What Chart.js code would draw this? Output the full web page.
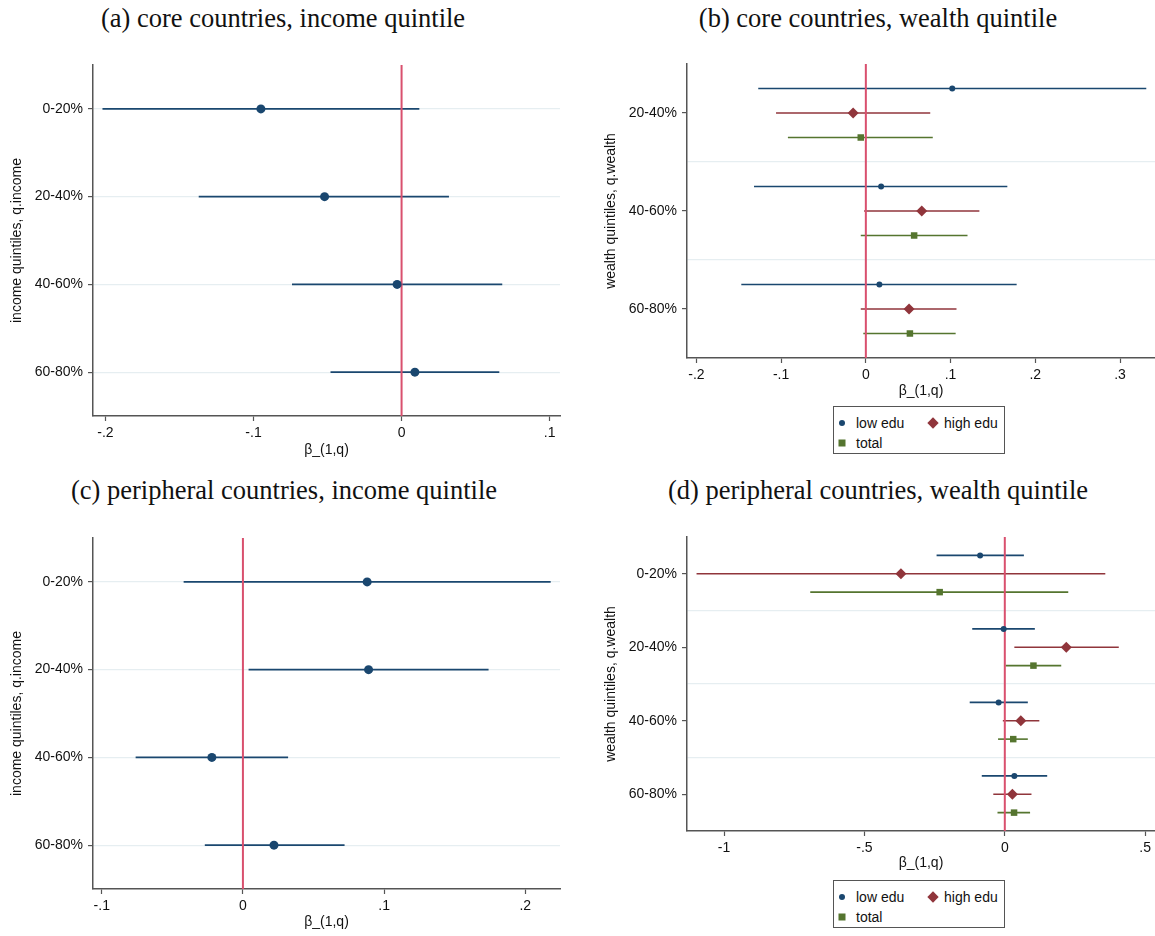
<!DOCTYPE html>
<html>
<head>
<meta charset="utf-8">
<script src="https://cdn.jsdelivr.net/npm/chart.js@4.4.1/dist/chart.umd.min.js"></script>
<style>
  body { margin: 0; background: #fff; width: 1155px; height: 936px; position: relative; overflow: hidden;
         font-family: "Liberation Sans", Arial, sans-serif; color: #111; }
  .ttl { position: absolute; font-family: "Liberation Serif", "Times New Roman", serif; font-size: 26.5px;
         white-space: nowrap; transform: translate(-50%, -50%); color: #111; }
  .pan { position: absolute; }
  .leg { position: absolute; border: 1px solid #555; box-sizing: border-box; font-size: 14px; }
  .leg span { position: absolute; }
  .leg .lt { transform: translateY(-50%); white-space: nowrap; }
  .dot { width: 6px; height: 6px; border-radius: 50%; background: #1a476f; transform: translate(-50%, -50%); }
  .dia { width: 8px; height: 8px; background: #90353b; transform: translate(-50%, -50%) rotate(45deg); }
  .sq { width: 7px; height: 7px; background: #55752f; transform: translate(-50%, -50%); }
</style>
</head>
<body>
<div class="ttl" style="left:283px;top:18px">(a) core countries, income quintile</div>
<div class="ttl" style="left:878px;top:18px">(b) core countries, wealth quintile</div>
<div class="ttl" style="left:284px;top:490px">(c) peripheral countries, income quintile</div>
<div class="ttl" style="left:878px;top:490px">(d) peripheral countries, wealth quintile</div>

<canvas id="pa" class="pan" width="578" height="430" style="left:0;top:40px"></canvas>
<canvas id="pb" class="pan" width="577" height="360" style="left:578px;top:40px"></canvas>
<canvas id="pc" class="pan" width="578" height="424" style="left:0;top:512px"></canvas>
<canvas id="pd" class="pan" width="577" height="360" style="left:578px;top:512px"></canvas>

<div class="leg" style="left:833px;top:406px;width:172px;height:48px">
  <span class="dot" style="left:8px;top:16px"></span><span class="lt" style="left:22px;top:16px">low edu</span>
  <span class="dia" style="left:99px;top:16px"></span><span class="lt" style="left:110px;top:16px">high edu</span>
  <span class="sq" style="left:8px;top:36px"></span><span class="lt" style="left:22px;top:36px">total</span>
</div>
<div class="leg" style="left:833px;top:880px;width:172px;height:48px">
  <span class="dot" style="left:8px;top:16px"></span><span class="lt" style="left:22px;top:16px">low edu</span>
  <span class="dia" style="left:99px;top:16px"></span><span class="lt" style="left:110px;top:16px">high edu</span>
  <span class="sq" style="left:8px;top:36px"></span><span class="lt" style="left:22px;top:36px">total</span>
</div>

<script>
// quintile labels
const incomeQuintiles = ['0-20%', '20-40%', '40-60%', '60-80%'];
const coreWealthQuintiles = ['20-40%', '40-60%', '60-80%'];
const periWealthQuintiles = ['0-20%', '20-40%', '40-60%', '60-80%'];

// (a) core countries, income: estimate and 95% CI
const coreIncB  = [-0.095, -0.052, -0.003, 0.009];
const coreIncLo = [-0.202, -0.137, -0.074, -0.048];
const coreIncHi = [0.012, 0.032, 0.068, 0.066];

// (b) core countries, wealth
const coreLowB   = [0.102, 0.018, 0.016];
const coreLowLo  = [-0.127, -0.132, -0.147];
const coreLowHi  = [0.331, 0.167, 0.178];
const coreHighB  = [-0.015, 0.066, 0.051];
const coreHighLo = [-0.106, -0.002, -0.006];
const coreHighHi = [0.076, 0.134, 0.107];
const coreTotB   = [-0.006, 0.057, 0.052];
const coreTotLo  = [-0.092, -0.006, -0.003];
const coreTotHi  = [0.079, 0.120, 0.106];

// (c) peripheral countries, income
const periIncB  = [0.088, 0.089, -0.022, 0.022];
const periIncLo = [-0.042, 0.004, -0.076, -0.027];
const periIncHi = [0.218, 0.174, 0.032, 0.072];

// (d) peripheral countries, wealth
const periLowB   = [-0.088, -0.004, -0.022, 0.034];
const periLowLo  = [-0.243, -0.116, -0.125, -0.082];
const periLowHi  = [0.068, 0.107, 0.082, 0.151];
const periHighB  = [-0.370, 0.219, 0.057, 0.027];
const periHighLo = [-1.098, 0.034, -0.007, -0.041];
const periHighHi = [0.358, 0.406, 0.123, 0.095];
const periTotB   = [-0.232, 0.102, 0.030, 0.033];
const periTotLo  = [-0.693, 0.003, -0.024, -0.026];
const periTotHi  = [0.226, 0.201, 0.082, 0.090];

// x axis tick values
const ticksA = [-0.2, -0.1, 0, 0.1];
const ticksB = [-0.2, -0.1, 0, 0.1, 0.2, 0.3];
const ticksC = [-0.1, 0, 0.1, 0.2];
const ticksD = [-1, -0.5, 0, 0.5];

const blue = '#1a476f', red = '#90353b', green = '#55752f';
const zeroCol = '#d9506e';
const axisCol = '#555555';
const gridCol = '#e6eef1';
const clear = 'rgba(0,0,0,0)';

Chart.defaults.font.family = '"Liberation Sans", Arial, sans-serif';
Chart.defaults.color = '#111';

// stata style numbers: .1, -.2, 0
function stata(v) {
  if (v === 0) return '0';
  return (v < 0 ? '-' : '') + String(Math.abs(v)).replace(/^0\./, '.');
}

// horizontal CI segments, one dataset each
function ciSets(lo, hi, shift, color) {
  return lo.map((l, i) => ({
    data: [{ x: l, y: i + 1 + shift }, { x: hi[i], y: i + 1 + shift }],
    showLine: true, borderColor: color, borderWidth: 1.6, pointRadius: 0, order: 2
  }));
}

function markerSet(b, shift, color, style, r) {
  return {
    data: b.map((v, i) => ({ x: v, y: i + 1 + shift })),
    pointStyle: style, pointRadius: r,
    pointBackgroundColor: color, pointBorderColor: color, pointBorderWidth: 0, order: 0
  };
}

function zeroSet(n) {
  return {
    data: [{ x: 0, y: 0.5 }, { x: 0, y: n + 0.5 }],
    showLine: true, borderColor: zeroCol, borderWidth: 2, pointRadius: 0, order: 1
  };
}

function drawPanel(id, o) {
  const n = o.cats.length;
  new Chart(document.getElementById(id), {
    type: 'scatter',
    data: { datasets: o.datasets },
    options: {
      responsive: false,
      animation: false,
      events: [],
      layout: { autoPadding: false, padding: { top: o.top, right: o.right, left: 0, bottom: 0 } },
      plugins: { legend: { display: false }, tooltip: { enabled: false } },
      scales: {
        x: {
          type: 'linear', position: 'bottom', min: o.xmin, max: o.xmax,
          afterBuildTicks: s => { s.ticks = o.xticks.map(v => ({ value: v })); },
          afterFit: s => { s.height = o.xh; s.paddingLeft = 0; s.paddingRight = 0; },
          ticks: { callback: v => stata(v), font: { size: 14 }, color: '#111', padding: 4, maxRotation: 0, autoSkip: false },
          grid: { drawOnChartArea: false, tickLength: 5, tickColor: axisCol, tickWidth: 1.2 },
          border: { color: axisCol, width: 1.5 },
          title: { display: true, text: 'β_(1,q)', font: { size: 14 }, color: '#111', padding: { top: 0, bottom: o.xtPad } }
        },
        y: {
          type: 'linear', reverse: true, min: 0.5, max: n + 0.5,
          afterBuildTicks: s => { s.ticks = o.yticks.map(v => ({ value: v })); },
          afterFit: s => { s.width = o.yw; s.paddingTop = 0; s.paddingBottom = 0; },
          ticks: { callback: v => Number.isInteger(v) ? o.cats[v - 1] : '', font: { size: 14 }, color: '#111', padding: 5, autoSkip: false },
          grid: {
            color: c => (c.tick && o.gridAt(c.tick.value)) ? gridCol : clear,
            tickColor: c => (c.tick && Number.isInteger(c.tick.value)) ? axisCol : clear,
            tickLength: 5, lineWidth: 1.2, tickWidth: 1.2
          },
          border: { color: axisCol, width: 1.5 },
          title: { display: true, text: o.ytitle, font: { size: 14 }, color: '#111', padding: { top: o.ytPad, bottom: 0 } }
        }
      }
    }
  });
}

// single series panels: grid at each quintile
const isInt = v => Number.isInteger(v);
// grouped panels: grid between groups
const isHalf = v => !Number.isInteger(v);

drawPanel('pa', {
  cats: incomeQuintiles, yticks: [1, 2, 3, 4], gridAt: isInt,
  xmin: -0.2084, xmax: 0.107, xticks: ticksA,
  top: 25, right: 18, yw: 93, xh: 54, xtPad: 11.6, ytPad: 9,
  ytitle: 'income quintiles, q.income',
  datasets: [...ciSets(coreIncLo, coreIncHi, 0, blue), zeroSet(4), markerSet(coreIncB, 0, blue, 'circle', 4.5)]
});

drawPanel('pb', {
  cats: coreWealthQuintiles, yticks: [1, 1.5, 2, 2.5, 3], gridAt: isHalf,
  xmin: -0.2111, xmax: 0.3413, xticks: ticksB,
  top: 24, right: 0, yw: 109, xh: 42, xtPad: 0.6, ytPad: 25,
  ytitle: 'wealth quintiles, q.wealth',
  datasets: [
    ...ciSets(coreLowLo, coreLowHi, -0.25, blue),
    ...ciSets(coreHighLo, coreHighHi, 0, red),
    ...ciSets(coreTotLo, coreTotHi, 0.25, green),
    zeroSet(3),
    markerSet(coreLowB, -0.25, blue, 'circle', 3),
    markerSet(coreHighB, 0, red, 'rectRot', 5.5),
    markerSet(coreTotB, 0.25, green, 'rect', 4.6)
  ]
});

drawPanel('pc', {
  cats: incomeQuintiles, yticks: [1, 2, 3, 4], gridAt: isInt,
  xmin: -0.1062, xmax: 0.2246, xticks: ticksC,
  top: 26, right: 18, yw: 93, xh: 47, xtPad: 5.6, ytPad: 9,
  ytitle: 'income quintiles, q.income',
  datasets: [...ciSets(periIncLo, periIncHi, 0, blue), zeroSet(4), markerSet(periIncB, 0, blue, 'circle', 4.5)]
});

drawPanel('pd', {
  cats: periWealthQuintiles, yticks: [1, 1.5, 2, 2.5, 3, 3.5, 4], gridAt: isHalf,
  xmin: -1.132, xmax: 0.535, xticks: ticksD,
  top: 25, right: 0, yw: 109, xh: 41, xtPad: 0.6, ytPad: 25,
  ytitle: 'wealth quintiles, q.wealth',
  datasets: [
    ...ciSets(periLowLo, periLowHi, -0.25, blue),
    ...ciSets(periHighLo, periHighHi, 0, red),
    ...ciSets(periTotLo, periTotHi, 0.25, green),
    zeroSet(4),
    markerSet(periLowB, -0.25, blue, 'circle', 3),
    markerSet(periHighB, 0, red, 'rectRot', 5.5),
    markerSet(periTotB, 0.25, green, 'rect', 4.6)
  ]
});
</script>
</body>
</html>
